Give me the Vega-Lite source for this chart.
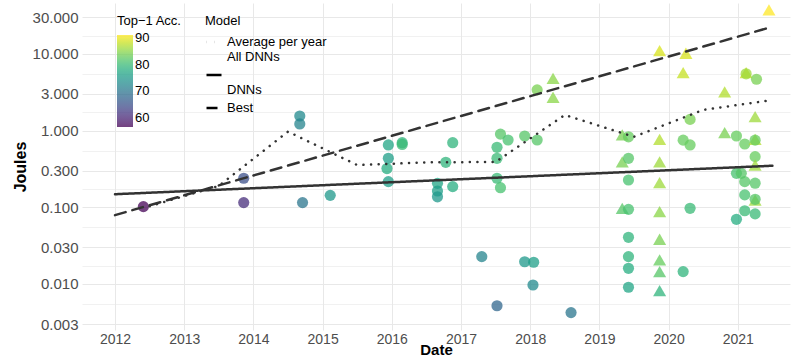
{
  "$schema": "https://vega.github.io/schema/vega-lite/v6.json",
  "width": 708,
  "height": 327,
  "autosize": {"type": "none"},
  "padding": {"left": 82, "top": 3, "right": 10, "bottom": 27},
  "background": "white",
  "config": {
    "font": "Liberation Sans",
    "view": {"stroke": null},
    "axis": {"domain": false, "ticks": false, "labelColor": "#4d4d4d", "labelFontSize": 15, "titleFontSize": 16, "titleFontWeight": "bold", "titleColor": "#000000", "gridColor": "#e8e8e8", "labelOverlap": false, "labelFlush": false},
    "legend": {"titleFontSize": 13, "labelFontSize": 13, "titleFontWeight": "normal", "titleColor": "#000000", "labelColor": "#000000"}
  },
  "datasets": {
    "pts": [
      {"d": 2012.41, "j": 0.102, "a": 57, "e": "No"},
      {"d": 2013.86, "j": 0.239, "a": 65, "e": "No"},
      {"d": 2013.86, "j": 0.115, "a": 61, "e": "No"},
      {"d": 2014.67, "j": 1.55, "a": 73, "e": "No"},
      {"d": 2014.67, "j": 1.22, "a": 72, "e": "No"},
      {"d": 2014.71, "j": 0.115, "a": 70, "e": "No"},
      {"d": 2015.11, "j": 0.143, "a": 75, "e": "No"},
      {"d": 2015.95, "j": 0.65, "a": 77, "e": "No"},
      {"d": 2015.95, "j": 0.435, "a": 76, "e": "No"},
      {"d": 2015.93, "j": 0.32, "a": 78, "e": "No"},
      {"d": 2015.95, "j": 0.216, "a": 76, "e": "No"},
      {"d": 2016.15, "j": 0.695, "a": 79, "e": "No"},
      {"d": 2016.15, "j": 0.66, "a": 80, "e": "No"},
      {"d": 2016.66, "j": 0.205, "a": 77, "e": "No"},
      {"d": 2016.66, "j": 0.163, "a": 76, "e": "No"},
      {"d": 2016.66, "j": 0.137, "a": 75, "e": "No"},
      {"d": 2016.88, "j": 0.695, "a": 79, "e": "No"},
      {"d": 2016.88, "j": 0.186, "a": 78, "e": "No"},
      {"d": 2016.78, "j": 0.386, "a": 79, "e": "No"},
      {"d": 2017.3, "j": 0.0227, "a": 72, "e": "No"},
      {"d": 2017.52, "j": 0.0052, "a": 68, "e": "No"},
      {"d": 2017.52, "j": 0.239, "a": 80, "e": "No"},
      {"d": 2017.57, "j": 0.18, "a": 81, "e": "No"},
      {"d": 2017.52, "j": 0.435, "a": 80, "e": "No"},
      {"d": 2017.52, "j": 0.605, "a": 80, "e": "No"},
      {"d": 2017.57, "j": 0.9, "a": 82, "e": "No"},
      {"d": 2017.68, "j": 0.754, "a": 81, "e": "No"},
      {"d": 2017.92, "j": 0.85, "a": 82, "e": "No"},
      {"d": 2017.92, "j": 0.0195, "a": 75, "e": "No"},
      {"d": 2018.05, "j": 0.0192, "a": 76, "e": "No"},
      {"d": 2018.04, "j": 0.0097, "a": 73, "e": "No"},
      {"d": 2018.59, "j": 0.00423, "a": 70, "e": "No"},
      {"d": 2018.1, "j": 0.754, "a": 82, "e": "No"},
      {"d": 2018.1, "j": 3.4, "a": 84, "e": "No"},
      {"d": 2018.33, "j": 4.8, "a": 85, "e": "Yes"},
      {"d": 2018.33, "j": 2.72, "a": 85, "e": "Yes"},
      {"d": 2019.33, "j": 0.877, "a": 84, "e": "Yes"},
      {"d": 2019.42, "j": 0.83, "a": 83, "e": "No"},
      {"d": 2019.33, "j": 0.39, "a": 84, "e": "Yes"},
      {"d": 2019.42, "j": 0.435, "a": 82, "e": "No"},
      {"d": 2019.42, "j": 0.227, "a": 81, "e": "No"},
      {"d": 2019.33, "j": 0.097, "a": 82, "e": "Yes"},
      {"d": 2019.42, "j": 0.094, "a": 81, "e": "No"},
      {"d": 2019.42, "j": 0.0406, "a": 79, "e": "No"},
      {"d": 2019.42, "j": 0.0227, "a": 79, "e": "No"},
      {"d": 2019.42, "j": 0.016, "a": 78, "e": "No"},
      {"d": 2019.42, "j": 0.00906, "a": 77, "e": "No"},
      {"d": 2019.87, "j": 11.0, "a": 89, "e": "Yes"},
      {"d": 2019.87, "j": 0.77, "a": 87, "e": "Yes"},
      {"d": 2019.87, "j": 0.39, "a": 86, "e": "Yes"},
      {"d": 2019.87, "j": 0.209, "a": 86, "e": "Yes"},
      {"d": 2019.87, "j": 0.0877, "a": 85, "e": "Yes"},
      {"d": 2019.87, "j": 0.0383, "a": 84, "e": "Yes"},
      {"d": 2019.87, "j": 0.0206, "a": 83, "e": "Yes"},
      {"d": 2019.87, "j": 0.0145, "a": 82, "e": "Yes"},
      {"d": 2019.87, "j": 0.0082, "a": 79, "e": "Yes"},
      {"d": 2020.25, "j": 10.2, "a": 89, "e": "Yes"},
      {"d": 2020.21, "j": 5.7, "a": 88, "e": "Yes"},
      {"d": 2020.31, "j": 1.4, "a": 84, "e": "No"},
      {"d": 2020.21, "j": 0.75, "a": 83, "e": "No"},
      {"d": 2020.31, "j": 0.65, "a": 83, "e": "No"},
      {"d": 2020.31, "j": 0.097, "a": 80, "e": "No"},
      {"d": 2020.21, "j": 0.0145, "a": 79, "e": "No"},
      {"d": 2020.81, "j": 3.2, "a": 87, "e": "Yes"},
      {"d": 2020.81, "j": 0.94, "a": 84, "e": "Yes"},
      {"d": 2020.98, "j": 0.85, "a": 83, "e": "No"},
      {"d": 2020.98, "j": 0.277, "a": 81, "e": "No"},
      {"d": 2020.98, "j": 0.0697, "a": 78, "e": "No"},
      {"d": 2021.05, "j": 0.277, "a": 82, "e": "No"},
      {"d": 2021.12, "j": 5.7, "a": 88, "e": "Yes"},
      {"d": 2021.12, "j": 5.5, "a": 86, "e": "No"},
      {"d": 2021.27, "j": 4.67, "a": 84, "e": "No"},
      {"d": 2021.1, "j": 0.668, "a": 83, "e": "No"},
      {"d": 2021.1, "j": 0.216, "a": 82, "e": "No"},
      {"d": 2021.1, "j": 0.145, "a": 81, "e": "No"},
      {"d": 2021.1, "j": 0.09, "a": 80, "e": "No"},
      {"d": 2021.25, "j": 1.52, "a": 86, "e": "Yes"},
      {"d": 2021.25, "j": 0.77, "a": 87, "e": "Yes"},
      {"d": 2021.25, "j": 0.75, "a": 83, "e": "No"},
      {"d": 2021.25, "j": 0.457, "a": 83, "e": "No"},
      {"d": 2021.25, "j": 0.356, "a": 86, "e": "Yes"},
      {"d": 2021.25, "j": 0.206, "a": 82, "e": "No"},
      {"d": 2021.25, "j": 0.124, "a": 86, "e": "Yes"},
      {"d": 2021.25, "j": 0.127, "a": 82, "e": "No"},
      {"d": 2021.25, "j": 0.082, "a": 80, "e": "No"},
      {"d": 2021.45, "j": 37.4, "a": 91, "e": "Yes"}
    ],
    "lines": [
      {"d": 2012.0, "j": 0.148, "m": "All DNNs"},
      {"d": 2021.5, "j": 0.348, "m": "All DNNs"},
      {"d": 2012.0, "j": 0.079, "m": "Best DNNs"},
      {"d": 2021.5, "j": 22.6, "m": "Best DNNs"},
      {"d": 2012.5, "j": 0.103, "m": "Average per year"},
      {"d": 2013.5, "j": 0.19, "m": "Average per year"},
      {"d": 2014.5, "j": 0.97, "m": "Average per year"},
      {"d": 2015.5, "j": 0.355, "m": "Average per year"},
      {"d": 2016.5, "j": 0.385, "m": "Average per year"},
      {"d": 2017.5, "j": 0.39, "m": "Average per year"},
      {"d": 2018.5, "j": 1.6, "m": "Average per year"},
      {"d": 2019.5, "j": 0.83, "m": "Average per year"},
      {"d": 2020.5, "j": 1.86, "m": "Average per year"},
      {"d": 2021.5, "j": 2.5, "m": "Average per year"}
    ]
  },
  "layer": [
    {
      "data": {"name": "pts"},
      "mark": {"type": "point", "filled": true, "opacity": 0.75},
      "encoding": {
        "x": {
          "field": "d", "type": "quantitative", "title": "Date",
          "scale": {"domain": [2011.523, 2021.754], "nice": false, "zero": false},
          "axis": {
            "values": [2012, 2012.5, 2013, 2013.5, 2014, 2014.5, 2015, 2015.5, 2016, 2016.5, 2017, 2017.5, 2018, 2018.5, 2019, 2019.5, 2020, 2020.5, 2021, 2021.5],
            "labelExpr": "datum.value % 1 === 0 ? format(datum.value, 'd') : ''",
            "gridWidth": {"condition": {"test": "datum.value % 1 === 0", "value": 1}, "value": 0.6},
            "labelFontSize": 14, "labelPadding": 2, "titleY": 27, "titleBaseline": "bottom", "titleFontSize": 15
          }
        },
        "y": {
          "field": "j", "type": "quantitative", "title": "Joules",
          "scale": {"type": "log", "domain": [0.00251, 46.1], "nice": false},
          "axis": {
            "values": [0.003, 0.005477, 0.01, 0.01732, 0.03, 0.05477, 0.1, 0.1732, 0.3, 0.5477, 1, 1.732, 3, 5.477, 10, 17.32, 30],
            "labelExpr": "indexof([0.003,0.01,0.03,0.1,0.3,1,3,10,30], datum.value) >= 0 ? format(datum.value, '.3f') : ''",
            "gridWidth": {"condition": {"test": "indexof([0.003,0.01,0.03,0.1,0.3,1,3,10,30], datum.value) >= 0", "value": 1}, "value": 0.6},
            "labelPadding": 4, "titlePadding": 4
          }
        },
        "color": {
          "field": "a", "type": "quantitative",
          "scale": {"scheme": "viridis", "domain": [56.7, 91]},
          "legend": {"orient": "none", "legendX": 35, "legendY": 12, "title": "Top−1 Acc.", "values": [60, 70, 80, 90], "gradientLength": 92, "gradientThickness": 16, "direction": "vertical", "titlePadding": 7}
        },
        "size": {
          "field": "e", "type": "nominal",
          "scale": {"domain": ["No", "Yes"], "range": [125, 170]},
          "legend": null
        },
        "shape": {
          "field": "e", "type": "nominal",
          "scale": {"domain": ["No", "Yes"], "range": ["circle", "triangle-up"]},
          "legend": {"orient": "none", "legendX": 263, "legendY": 10, "title": "Extra Data", "symbolFillColor": "#555555", "symbolStrokeColor": "#555555", "symbolOpacity": 1, "symbolSize": 150}
        }
      }
    },
    {
      "data": {"name": "lines"},
      "mark": {"type": "line", "color": "#333333", "strokeWidth": 2.5, "strokeCap": "round"},
      "encoding": {
        "x": {"field": "d", "type": "quantitative"},
        "y": {"field": "j", "type": "quantitative"},
        "strokeDash": {
          "field": "m", "type": "nominal",
          "scale": {"domain": ["Average per year", "All DNNs", "Best DNNs"], "range": [[0.1, 7.5], [1, 0], [11, 7]]},
          "legend": {"orient": "none", "legendX": 123, "legendY": 12, "title": "Model", "symbolType": "stroke", "symbolStrokeWidth": 2.5, "symbolSize": 225, "symbolStrokeColor": "#000000",
            "labelExpr": "datum.label == 'Average per year' ? ['Average per year', 'All DNNs'] : datum.label == 'All DNNs' ? ['', '\u2003\u2003DNNs'] : 'Best'"}
        }
      }
    }
  ]
}
